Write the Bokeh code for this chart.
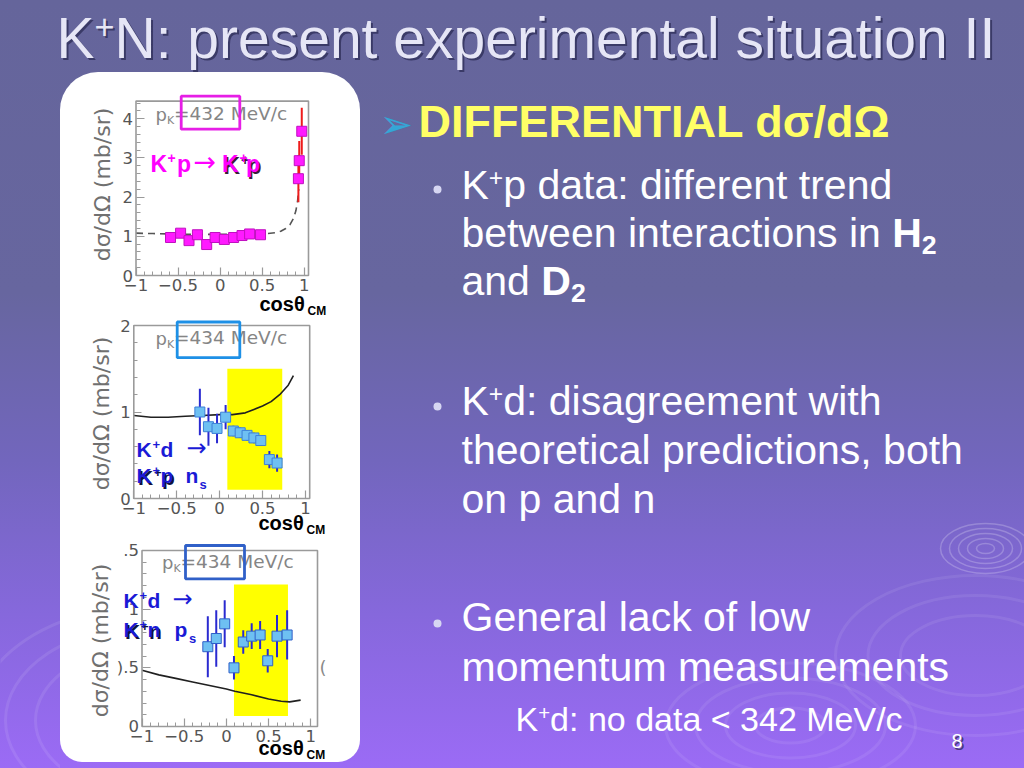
import math
from bokeh.plotting import figure
from bokeh.models import Range1d, Label, BoxAnnotation, FixedTicker, LinearAxis
from bokeh.layouts import column, row
from bokeh.embed import file_html
from bokeh.resources import INLINE

# ================= data =================
# Panel 1 : K+p -> K+p , p_K = 432 MeV/c
kp_cos = [-0.59, -0.47, -0.37, -0.27, -0.16, -0.06, 0.05, 0.16, 0.26, 0.35, 0.48, 0.93, 0.94, 0.97]
kp_dsig = [0.97, 1.08, 0.89, 1.04, 0.79, 0.97, 0.92, 0.97, 1.02, 1.06, 1.04, 2.47, 2.93, 3.68]
kp_err = [0.08, 0.08, 0.08, 0.08, 0.08, 0.08, 0.08, 0.08, 0.08, 0.08, 0.08, 0.60, 0.50, 0.60]
kp_th_cos = [-1.0, -0.8, -0.6, -0.4, -0.2, 0.0, 0.2, 0.4, 0.55, 0.65, 0.72, 0.78, 0.83, 0.87, 0.90, 0.92, 0.935]
kp_th_dsig = [1.08, 1.07, 1.06, 1.05, 1.05, 1.05, 1.05, 1.06, 1.07, 1.09, 1.13, 1.20, 1.30, 1.45, 1.65, 1.90, 2.20]

# Panel 2 : K+d -> K+p n_s , p_K = 434 MeV/c
kdp_cos = [-0.23, -0.13, -0.03, 0.07, 0.16, 0.24, 0.32, 0.40, 0.48, 0.58, 0.67]
kdp_dsig = [1.00, 0.83, 0.81, 0.94, 0.78, 0.76, 0.73, 0.70, 0.67, 0.45, 0.41]
kdp_err = [0.27, 0.22, 0.17, 0.14, 0.06, 0.06, 0.06, 0.06, 0.06, 0.10, 0.10]
kdp_th_cos = [-1.0, -0.8, -0.6, -0.4, -0.2, 0.0, 0.15, 0.3, 0.4, 0.5, 0.6, 0.7, 0.8, 0.86]
kdp_th_dsig = [0.96, 0.94, 0.94, 0.95, 0.96, 0.97, 0.97, 0.99, 1.03, 1.07, 1.12, 1.20, 1.31, 1.42]
kdp_band_cos = [0.09, 0.73]
kdp_band_dsig = [0.10, 1.50]

# Panel 3 : K+d -> K+n p_s , p_K = 434 MeV/c
kdn_cos = [-0.22, -0.12, -0.02, 0.09, 0.20, 0.30, 0.40, 0.49, 0.60, 0.72]
kdn_dsig = [0.68, 0.75, 0.875, 0.50, 0.72, 0.77, 0.78, 0.56, 0.77, 0.78]
kdn_err = [0.26, 0.24, 0.20, 0.10, 0.10, 0.11, 0.12, 0.10, 0.18, 0.21]
kdn_th_cos = [-1.0, -0.8, -0.6, -0.4, -0.2, 0.0, 0.1, 0.3, 0.5, 0.65, 0.75, 0.88]
kdn_th_dsig = [0.48, 0.44, 0.41, 0.38, 0.35, 0.32, 0.30, 0.27, 0.235, 0.215, 0.21, 0.225]
kdn_band_cos = [0.09, 0.73]
kdn_band_dsig = [0.09, 1.21]

# axes extents / tick labels
p1_extent = [-1.0, 1.05, 0.0, 4.45]
p2_extent = [-1.0, 1.05, 0.0, 2.0]
p3_extent = [-1.0, 1.08, 0.0, 1.5]
cos_ticks = [-1, -0.5, 0, 0.5, 1]
cos_tick_labels = ["\u22121", "\u22120.5", "0", "0.5", "1"]
p1_yticks = [0, 1, 2, 3, 4]
p1_ytick_labels = ["0", "1", "2", "3", "4"]
p2_yticks = [0, 1, 2]
p2_ytick_labels = ["0", "1", "2"]
p3_yticks = [0, 0.5, 1, 1.5]
p3_ytick_labels = ["0", ").5", "1", ".5"]
y_axis_label = "d\u03c3/d\u03a9 (mb/sr)"
momenta = ["432", "434", "434"]

# slide texts
title_parts = [("K", "n"), ("+", "sup"), ("N: present experimental situation II", "n")]
heading = "DIFFERENTIAL d\u03c3/d\u03a9"
bullet1 = [[("K", "n"), ("+", "sup"), ("p data: different trend", "n")],
           [("between interactions in ", "n"), ("H", "b"), ("2", "bsub")],
           [("and ", "n"), ("D", "b"), ("2", "bsub")]]
bullet2 = [[("K", "n"), ("+", "sup"), ("d: disagreement with", "n")],
           [("theoretical predictions, both", "n")],
           [("on p and n", "n")]]
bullet3 = [[("General lack of low", "n")],
           [("momentum measurements", "n")]]
note = [("K", "n"), ("+", "sup"), ("d: no data < 342 MeV/c", "n")]
page_no = "8"

# ================= helpers =================
W, H = 1024, 768
FL = "Liberation Sans"
FD = "DejaVu Sans"
MID = 0.36   # distance from baseline to the em-box middle, in font sizes

AR = {' ': 278, '!': 278, '(': 333, ')': 333, '+': 584, ',': 278, '-': 333, '.': 278, '/': 278,
      ':': 278, '<': 584, '=': 584, '>': 584,
      'A': 667, 'B': 667, 'C': 722, 'D': 722, 'E': 667, 'F': 611, 'G': 778, 'H': 722, 'I': 278,
      'J': 500, 'K': 667, 'L': 556, 'M': 833, 'N': 722, 'O': 778, 'P': 667, 'Q': 778, 'R': 722,
      'S': 667, 'T': 611, 'U': 722, 'V': 667, 'W': 944, 'X': 667, 'Y': 667, 'Z': 611,
      'a': 556, 'b': 556, 'c': 500, 'd': 556, 'e': 556, 'f': 278, 'g': 556, 'h': 556, 'i': 222,
      'j': 222, 'k': 500, 'l': 222, 'm': 833, 'n': 556, 'o': 556, 'p': 556, 'q': 556, 'r': 333,
      's': 500, 't': 278, 'u': 556, 'v': 500, 'w': 722, 'x': 500, 'y': 500, 'z': 500}
ARB = {' ': 278, '+': 584, '/': 278, 'A': 722, 'D': 722, 'E': 667, 'F': 611, 'H': 722, 'I': 278,
       'K': 722, 'L': 611, 'N': 722, 'R': 722, 'T': 611, 'd': 611, 'n': 611, 'p': 611, 's': 556}


def tw(txt, bold=False):
    tab = ARB if bold else AR
    return sum(tab.get(c, AR.get(c, 556)) for c in txt) / 1000.0


def mk_label(x, y, text, size, color, font, bold, alpha=1.0, align="left", angle=0.0):
    return Label(x=x, y=y, text=text, text_font=font, text_font_size=f"{size:.1f}px",
                 text_color=color, text_alpha=alpha, text_align=align, angle=angle,
                 text_baseline="middle", text_font_style="bold" if bold else "normal")


def add_label(p, x, y, text, size, color, font=FL, bold=False, alpha=1.0):
    # (x, y) = start of the text on its baseline, in slide pixels (y downward)
    p.add_layout(mk_label(x, y - MID * size, text, size, color, font, bold, alpha))


def text_runs(p, x, y, parts, size, color, shadow=None):
    for txt, st in parts:
        bold = st in ("b", "bsub")
        if st == "sup":
            fs, dy = size * 0.6, -size * 0.33
        elif st == "bsub":
            fs, dy = size * 0.65, size * 0.18
        else:
            fs, dy = size, 0
        if shadow:
            add_label(p, x + 2, y + dy + 2, txt, fs, shadow, bold=bold, alpha=0.75)
        add_label(p, x, y + dy, txt, fs, color, bold=bold)
        x += tw(txt, bold) * fs


def deco_fig(w, h, xr, yr):
    p = figure(width=w, height=h, x_range=Range1d(*xr), y_range=Range1d(*yr), title=None,
               output_backend="svg", toolbar_location=None, x_axis_type=None, y_axis_type=None,
               min_border=0)
    p.min_border_left = p.min_border_right = p.min_border_top = p.min_border_bottom = 0
    p.background_fill_alpha = 0
    p.border_fill_alpha = 0
    p.outline_line_color = None
    return p


# ---------------- title strip ----------------
TOP_H = 72
top = deco_fig(W, TOP_H, (0, 1024), (TOP_H, 0))
text_runs(top, 56, 58, title_parts, 57, "#e6e6f6", shadow="#2c2c55")

# ---------------- left strip (background ripples only) ----------------
PX0, PX1 = 60, 360   # panel x extent on the slide
RH = H - TOP_H
left = deco_fig(PX0, RH, (0, PX0), (768, TOP_H))
left.ellipse(x=[150] * 4, y=[720] * 4, width=[170, 230, 290, 350], height=[110, 150, 190, 230],
             fill_alpha=0, line_color="white", line_alpha=0.09, line_width=3)

# ---------------- right text area ----------------
RX0 = PX1
RW = W - RX0
right = deco_fig(RW, RH, (RX0, 1024), (768, TOP_H))
right.ellipse(x=[985] * 5, y=[548] * 5, width=[18, 36, 54, 72, 90], height=[10, 20, 30, 40, 50],
              fill_alpha=0, line_color="white", line_alpha=0.22, line_width=1.5)
right.ellipse(x=[975] * 3, y=[655] * 3, width=[150, 215, 280], height=[80, 120, 160],
              fill_alpha=0, line_color="white", line_alpha=0.08, line_width=3)
right.ellipse(x=[790] * 4, y=[725] * 4, width=[70, 130, 190, 250], height=[35, 65, 95, 125],
              fill_alpha=0, line_color="white", line_alpha=0.08, line_width=3)

add_label(right, 379, 138, "\u27a2", 40, "#35a6d6", font=FD)
add_label(right, 418, 137, heading, 45, "#ffff66", bold=True)
right.scatter(x=[437, 437, 437], y=[189, 406, 623], size=8, marker="circle",
              fill_color="#d6d6f2", line_color=None)
for i, parts in enumerate(bullet1):
    text_runs(right, 461, 199 + 48 * i, parts, 41, "white")
for i, parts in enumerate(bullet2):
    text_runs(right, 461, 415 + 49 * i, parts, 41, "white")
for i, parts in enumerate(bullet3):
    text_runs(right, 461, 631 + 50 * i, parts, 41, "white")
text_runs(right, 515, 731, note, 34, "white")
add_label(right, 953, 750, page_no, 20, "#30305a", alpha=0.8)
add_label(right, 951, 748, page_no, 20, "white")


# ---------------- sub plots ----------------
def subplot(fig_top, fig_h, box, extent, yticks, ylabels, yminor):
    """box = slide pixel box of the plot frame (x0, x1, ytop, ybottom); extent = data box."""
    bx0, bx1, by0, by1 = box
    dx0, dx1, dy0, dy1 = extent
    ppx = (bx1 - bx0) / (dx1 - dx0)
    ppy = (by1 - by0) / (dy1 - dy0)
    xr = (dx0 - (bx0 - PX0) / ppx, dx1 + (PX1 - bx1) / ppx)
    yr = (dy0 - (fig_top + fig_h - by1) / ppy, dy1 + (by0 - fig_top) / ppy)
    p = figure(width=PX1 - PX0, height=fig_h, x_range=Range1d(*xr), y_range=Range1d(*yr),
               title=None, output_backend="svg", toolbar_location=None,
               x_axis_type=None, y_axis_type=None, min_border=0)
    p.min_border_left = p.min_border_right = p.min_border_top = p.min_border_bottom = 0
    p.background_fill_alpha = 0
    p.border_fill_alpha = 0
    p.outline_line_color = None
    xminor = [round(-1 + 0.1 * i, 2) for i in range(21) if i % 5]
    xa = LinearAxis(fixed_location=dy0, ticker=FixedTicker(ticks=cos_ticks, minor_ticks=xminor),
                    major_label_overrides=dict(zip(cos_ticks, cos_tick_labels)))
    ya = LinearAxis(fixed_location=dx0, ticker=FixedTicker(ticks=yticks, minor_ticks=yminor),
                    major_label_overrides=dict(zip(yticks, ylabels)))
    for ax in (xa, ya):
        ax.axis_line_color = None
        ax.major_tick_line_color = "#9a9a9a"
        ax.minor_tick_line_color = "#9a9a9a"
        ax.major_tick_line_width = 1.2
        ax.major_tick_in = 8
        ax.major_tick_out = 0
        ax.minor_tick_in = 4
        ax.minor_tick_out = 0
        ax.major_label_text_font = FD
        ax.major_label_text_font_size = "16.5px"
        ax.major_label_text_color = "#555555"
        ax.major_label_standoff = 3
    p.add_layout(xa, "below")
    p.add_layout(ya, "left")
    fr = dict(xr=xr, yr=yr, top=fig_top, h=fig_h)
    return p, fr


def frame_box(p, extent):
    p.quad(left=[extent[0]], right=[extent[1]], bottom=[extent[2]], top=[extent[3]],
           fill_alpha=0, line_color="#9a9a9a", line_width=1.6)


def to_data(fr, px, py):
    x = fr["xr"][0] + (px - PX0) / (PX1 - PX0) * (fr["xr"][1] - fr["xr"][0])
    y = fr["yr"][1] - (py - fr["top"]) / fr["h"] * (fr["yr"][1] - fr["yr"][0])
    return x, y


def slabel(p, fr, px, py, text, size, color, font=FD, bold=False, shadow=None):
    if shadow:
        x, y = to_data(fr, px + 1.6, py + 1.6 - MID * size)
        p.add_layout(mk_label(x, y, text, size, shadow, font, bold))
    x, y = to_data(fr, px, py - MID * size)
    p.add_layout(mk_label(x, y, text, size, color, font, bold))


def ylabel(p, fr, px, py):
    x, y = to_data(fr, px, py)
    p.add_layout(mk_label(x, y, y_axis_label, 22, "#707070", FD, False, align="center",
                          angle=math.pi / 2))


def sbox(p, fr, x0, x1, y0, y1, color):
    l, t = to_data(fr, x0, y0)
    r, b = to_data(fr, x1, y1)
    p.add_layout(BoxAnnotation(left=l, right=r, top=t, bottom=b, fill_alpha=0,
                               line_color=color, line_alpha=1.0, line_width=2.8))


def momentum(p, fr, px, py, mom):
    slabel(p, fr, px, py, "p", 18, "#858585")
    slabel(p, fr, px + 11.5, py + 4, "K", 11, "#858585")
    slabel(p, fr, px + 18.5, py, "=" + mom + " MeV/c", 18.5, "#858585")


def costheta(p, fr, px, py):
    slabel(p, fr, px, py, "cos\u03b8", 20, "black", font=FL, bold=True)
    slabel(p, fr, px + 48, py + 4, "CM", 12, "black", font=FL, bold=True)


def errbars(p, xs, ys, es, color, width):
    p.segment(x0=xs, x1=xs, y0=[y - e for y, e in zip(ys, es)], y1=[y + e for y, e in zip(ys, es)],
              line_color=color, line_width=width)


# ---- panel 1
p1, f1 = subplot(72, 246, (135.5, 308, 100.6, 275), p1_extent, p1_yticks, p1_ytick_labels,
                 [round(0.2 * i, 2) for i in range(23) if i % 5])
p1.line(kp_th_cos, kp_th_dsig, line_color="#555555", line_width=1.6, line_dash="7 5")
errbars(p1, kp_cos, kp_dsig, kp_err, "#ee1c1c", 2)
p1.scatter(kp_cos, kp_dsig, marker="square", size=10, fill_color="#ff1aff", line_color="#c010c0")
frame_box(p1, p1_extent)
ylabel(p1, f1, 102, 184)
momentum(p1, f1, 155, 120, momenta[0])
sbox(p1, f1, 180.7, 239.3, 95.7, 128.7, "#e61ee6")
mg = "#ff00ff"
msh = "#3a1a3a"
slabel(p1, f1, 150, 172, "K", 23, mg, font=FL, bold=True)
slabel(p1, f1, 167, 163, "+", 14, mg, font=FL, bold=True)
slabel(p1, f1, 176.5, 172, "p", 23, mg, font=FL, bold=True)
slabel(p1, f1, 193, 171, "\u2192", 27, mg)
slabel(p1, f1, 221.5, 172, "K", 23, mg, font=FL, bold=True, shadow=msh)
slabel(p1, f1, 239, 163, "+", 14, mg, font=FL, bold=True, shadow=msh)
slabel(p1, f1, 245.5, 172, "p", 23, mg, font=FL, bold=True, shadow=msh)
costheta(p1, f1, 259, 311)

# ---- panel 2
p2, f2 = subplot(318, 222, (133.3, 309.2, 325, 498), p2_extent, p2_yticks, p2_ytick_labels,
                 [round(0.2 * i, 2) for i in range(11) if i % 5])
p2.quad(left=[kdp_band_cos[0]], right=[kdp_band_cos[1]], bottom=[kdp_band_dsig[0]],
        top=[kdp_band_dsig[1]], fill_color="#ffff00", line_color=None)
p2.line(kdp_th_cos, kdp_th_dsig, line_color="#202020", line_width=1.6)
errbars(p2, kdp_cos, kdp_dsig, kdp_err, "#2a2ad0", 2)
p2.scatter(kdp_cos, kdp_dsig, marker="square", size=10, fill_color="#6ec0f2", line_color="#3d7fd8")
frame_box(p2, p2_extent)
ylabel(p2, f2, 101, 413)
momentum(p2, f2, 155, 344, momenta[1])
sbox(p2, f2, 176.7, 239.3, 321.5, 357.2, "#1e90e6")
bl_ = "#1a1ad6"
sh_ = "#101040"
slabel(p2, f2, 136, 457, "K", 21, bl_, font=FL, bold=True)
slabel(p2, f2, 152, 449, "+", 13, bl_, font=FL, bold=True)
slabel(p2, f2, 160, 457, "d", 21, bl_, font=FL, bold=True)
slabel(p2, f2, 186, 456, "\u2192", 24, bl_)
slabel(p2, f2, 136, 483, "K", 21, bl_, font=FL, bold=True, shadow=sh_)
slabel(p2, f2, 152, 475, "+", 13, bl_, font=FL, bold=True, shadow=sh_)
slabel(p2, f2, 160, 483, "p", 21, bl_, font=FL, bold=True, shadow=sh_)
slabel(p2, f2, 185, 483, "n", 21, bl_, font=FL, bold=True)
slabel(p2, f2, 199, 489, "s", 13, bl_, font=FL, bold=True)
costheta(p2, f2, 258, 530)

# ---- panel 3
p3, f3 = subplot(540, 222, (141.5, 317, 550, 726), p3_extent, p3_yticks, p3_ytick_labels,
                 [round(0.1 * i, 2) for i in range(16) if i % 5])
p3.quad(left=[kdn_band_cos[0]], right=[kdn_band_cos[1]], bottom=[kdn_band_dsig[0]],
        top=[kdn_band_dsig[1]], fill_color="#ffff00", line_color=None)
p3.line(kdn_th_cos, kdn_th_dsig, line_color="#202020", line_width=1.6)
errbars(p3, kdn_cos, kdn_dsig, kdn_err, "#2a2ad0", 2)
p3.scatter(kdn_cos, kdn_dsig, marker="square", size=10, fill_color="#6ec0f2", line_color="#2f5fc8")
frame_box(p3, p3_extent)
ylabel(p3, f3, 100, 640)
momentum(p3, f3, 161.5, 568, momenta[2])
sbox(p3, f3, 185, 244, 545, 578.3, "#3060c8")
slabel(p3, f3, 123, 608, "K", 21, bl_, font=FL, bold=True)
slabel(p3, f3, 139, 600, "+", 13, bl_, font=FL, bold=True)
slabel(p3, f3, 147, 608, "d", 21, bl_, font=FL, bold=True)
slabel(p3, f3, 172, 607, "\u2192", 24, bl_)
slabel(p3, f3, 123, 637, "K", 21, bl_, font=FL, bold=True, shadow=sh_)
slabel(p3, f3, 139, 629, "+", 13, bl_, font=FL, bold=True, shadow=sh_)
slabel(p3, f3, 147, 637, "n", 21, bl_, font=FL, bold=True, shadow=sh_)
slabel(p3, f3, 174, 637, "p", 21, bl_, font=FL, bold=True)
slabel(p3, f3, 188.5, 643, "s", 13, bl_, font=FL, bold=True)
slabel(p3, f3, 319, 673, "(", 18, "#8a8a8a")
costheta(p3, f3, 258, 755)

panel = column(p1, p2, p3, styles={"background-color": "white",
                                   "border-radius": "38px 38px 22px 22px"})
layout = column(top, row(left, panel, right),
                styles={"background": "linear-gradient(180deg, #65659b 0%, #67669f 38%, "
                                      "#7266bd 60%, #8668dc 80%, #9b6bf5 100%)"})

open("out.html", "w").write(file_html(layout, INLINE))
